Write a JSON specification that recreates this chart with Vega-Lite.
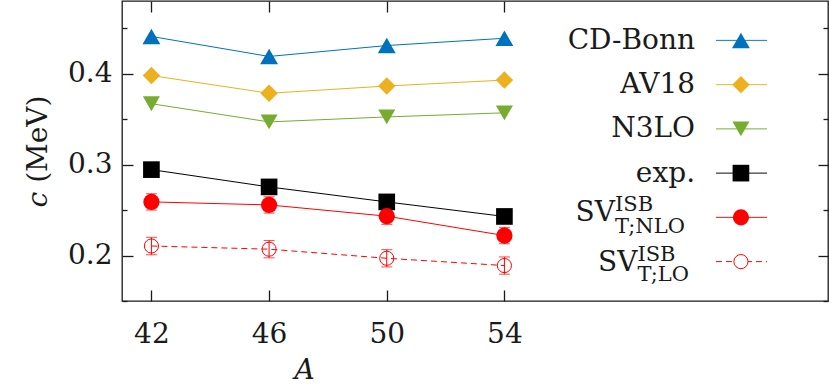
{
  "$schema": "https://vega.github.io/schema/vega-lite/v6.json",
  "width": 706,
  "height": 300,
  "autosize": {"type": "none"},
  "padding": {"left": 122, "top": 1, "right": 1, "bottom": 85},
  "background": "white",
  "datasets": {
    "main": [
      {"series": "CD-Bonn", "A": 42, "c": 0.441},
      {"series": "CD-Bonn", "A": 46, "c": 0.419},
      {"series": "CD-Bonn", "A": 50, "c": 0.431},
      {"series": "CD-Bonn", "A": 54, "c": 0.439},
      {"series": "AV18", "A": 42, "c": 0.398},
      {"series": "AV18", "A": 46, "c": 0.3785},
      {"series": "AV18", "A": 50, "c": 0.3865},
      {"series": "AV18", "A": 54, "c": 0.393},
      {"series": "N3LO", "A": 42, "c": 0.367},
      {"series": "N3LO", "A": 46, "c": 0.347},
      {"series": "N3LO", "A": 50, "c": 0.3525},
      {"series": "N3LO", "A": 54, "c": 0.357},
      {"series": "exp.", "A": 42, "c": 0.2945},
      {"series": "exp.", "A": 46, "c": 0.2755},
      {"series": "exp.", "A": 50, "c": 0.259},
      {"series": "exp.", "A": 54, "c": 0.243},
      {"series": "SV NLO", "A": 42, "c": 0.259, "lo": 0.25, "hi": 0.268},
      {"series": "SV NLO", "A": 46, "c": 0.2557, "lo": 0.2467, "hi": 0.2647},
      {"series": "SV NLO", "A": 50, "c": 0.2433, "lo": 0.2343, "hi": 0.2523},
      {"series": "SV NLO", "A": 54, "c": 0.222, "lo": 0.213, "hi": 0.231},
      {"series": "SV LO", "A": 42, "c": 0.2105, "lo": 0.201, "hi": 0.22},
      {"series": "SV LO", "A": 46, "c": 0.207, "lo": 0.1975, "hi": 0.2165},
      {"series": "SV LO", "A": 50, "c": 0.197, "lo": 0.1875, "hi": 0.2065},
      {"series": "SV LO", "A": 54, "c": 0.189, "lo": 0.1795, "hi": 0.1985}
    ],
    "legend": [
      {"series": "CD-Bonn", "main": "CD-Bonn", "sup": "", "sub": ""},
      {"series": "AV18", "main": "AV18", "sup": "", "sub": ""},
      {"series": "N3LO", "main": "N3LO", "sup": "", "sub": ""},
      {"series": "exp.", "main": "exp.", "sup": "", "sub": ""},
      {"series": "SV NLO", "main": "SV", "sup": "ISB", "sub": "T;NLO"},
      {"series": "SV LO", "main": "SV", "sup": "ISB", "sub": "T;LO"}
    ]
  },
  "config": {
    "font": "DejaVu Serif",
    "view": {"stroke": "#1a1a1a", "strokeWidth": 1.3},
    "axis": {
      "grid": false,
      "domain": false,
      "labelFont": "DejaVu Serif",
      "labelFontSize": 28,
      "labelColor": "#1a1a1a",
      "tickColor": "#1a1a1a",
      "tickWidth": 1.3,
      "titleFont": "DejaVu Serif",
      "titleFontSize": 28,
      "titleFontWeight": "normal",
      "titleColor": "#1a1a1a",
      "labelFlush": false,
      "labelOverlap": false
    },
    "text": {"font": "DejaVu Serif", "color": "#1a1a1a"}
  },
  "resolve": {"scale": {"y": "independent"}, "axis": {"x": "independent", "y": "independent"}},
  "layer": [
    {
      "data": {"name": "main"},
      "transform": [{"filter": "datum.series !== 'SV LO'"}],
      "mark": {"type": "line", "strokeWidth": 1},
      "encoding": {
        "x": {"field": "A", "type": "quantitative", "scale": {"domain": [41, 65], "nice": false, "zero": false},
          "axis": {"orient": "bottom", "values": [42, 46, 50, 54], "tickSize": -11, "labelPadding": 30, "title": "A", "titleFontStyle": "italic", "titleX": 182, "titleY": 77, "titleAlign": "center", "titleBaseline": "alphabetic"}},
        "y": {"field": "c", "type": "quantitative", "scale": {"domain": [0.15, 0.48], "nice": false, "zero": false},
          "axis": {"orient": "left", "values": [0.2, 0.3, 0.4], "format": ".1f", "tickSize": -11, "labelPadding": 21, "title": "𝑐 (MeV)", "titleX": -84, "titleY": 150, "titleAngle": -90, "titleAlign": "center", "titleBaseline": "middle"}},
        "color": {"field": "series", "type": "nominal", "scale": {"domain": ["CD-Bonn", "AV18", "N3LO", "exp.", "SV NLO", "SV LO"], "range": ["#0072BD", "#EDB120", "#77AC30", "#000000", "#FF0000", "#FF0000"]}, "legend": null}
      }
    },
    {
      "data": {"name": "main"},
      "transform": [{"filter": "datum.series === 'SV LO'"}],
      "mark": {"type": "line", "strokeWidth": 1, "strokeDash": [6, 4]},
      "encoding": {
        "x": {"field": "A", "type": "quantitative", "scale": {"domain": [41, 65], "nice": false, "zero": false},
          "axis": {"orient": "top", "values": [42, 46, 50, 54], "tickSize": -11, "labels": false, "title": null}},
        "y": {"field": "c", "type": "quantitative", "scale": {"domain": [0.15, 0.48], "nice": false, "zero": false},
          "axis": {"orient": "right", "values": [0.2, 0.3, 0.4], "tickSize": -10, "labels": false, "title": null}},
        "color": {"field": "series", "type": "nominal", "legend": null}
      }
    },
    {
      "data": {"name": "main"},
      "transform": [{"filter": "datum.series === 'SV NLO' || datum.series === 'SV LO'"}],
      "mark": {"type": "errorbar", "ticks": {"size": 11}, "rule": {"strokeWidth": 1}},
      "encoding": {
        "x": {"field": "A", "type": "quantitative", "scale": {"domain": [41, 65], "nice": false, "zero": false}, "axis": null},
        "y": {"field": "lo", "type": "quantitative", "scale": {"domain": [0.15, 0.48], "nice": false, "zero": false}, "axis": null},
        "y2": {"field": "hi"},
        "color": {"field": "series", "type": "nominal", "legend": null}
      }
    },
    {
      "data": {"name": "main"},
      "transform": [{"filter": "datum.series !== 'SV LO'"}],
      "mark": {"type": "point", "filled": true, "opacity": 1},
      "encoding": {
        "x": {"field": "A", "type": "quantitative", "scale": {"domain": [41, 65], "nice": false, "zero": false}, "axis": null},
        "y": {"field": "c", "type": "quantitative", "scale": {"domain": [0.15, 0.48], "nice": false, "zero": false},
          "axis": {"orient": "left", "values": [0.15, 0.25, 0.35, 0.45], "tickSize": -5, "labels": false, "title": null}},
        "color": {"field": "series", "type": "nominal", "legend": null},
        "shape": {"field": "series", "type": "nominal", "scale": {"domain": ["CD-Bonn", "AV18", "N3LO", "exp.", "SV NLO", "SV LO"], "range": ["triangle-up", "diamond", "triangle-down", "square", "circle", "circle"]}, "legend": null},
        "size": {"field": "series", "type": "ordinal", "scale": {"domain": ["CD-Bonn", "AV18", "N3LO", "exp.", "SV NLO", "SV LO"], "range": [320, 250, 320, 180, 169, 200]}, "legend": null}
      }
    },
    {
      "data": {"name": "main"},
      "transform": [{"filter": "datum.series === 'SV LO'"}],
      "mark": {"type": "point", "filled": false, "shape": "circle", "size": 200, "strokeWidth": 1, "opacity": 1},
      "encoding": {
        "x": {"field": "A", "type": "quantitative", "scale": {"domain": [41, 65], "nice": false, "zero": false}, "axis": null},
        "y": {"field": "c", "type": "quantitative", "scale": {"domain": [0.15, 0.48], "nice": false, "zero": false},
          "axis": {"orient": "right", "values": [0.15, 0.25, 0.35, 0.45], "tickSize": -5, "labels": false, "title": null}},
        "color": {"field": "series", "type": "nominal", "legend": null}
      }
    },
    {
      "data": {"name": "legend"},
      "mark": {"type": "rule", "strokeWidth": 1},
      "encoding": {
        "x": {"datum": 61.19, "type": "quantitative", "axis": null},
        "x2": {"datum": 62.93},
        "y": {"field": "series", "type": "nominal", "scale": {"type": "point", "domain": ["CD-Bonn", "AV18", "N3LO", "exp.", "SV NLO", "SV LO"], "padding": 0.89}, "axis": null},
        "color": {"field": "series", "type": "nominal", "legend": null},
        "strokeDash": {"field": "series", "type": "nominal", "scale": {"domain": ["CD-Bonn", "AV18", "N3LO", "exp.", "SV NLO", "SV LO"], "range": [[1, 0], [1, 0], [1, 0], [1, 0], [1, 0], [6, 4]]}, "legend": null}
      }
    },
    {
      "data": {"name": "legend"},
      "transform": [{"filter": "datum.series !== 'SV LO'"}],
      "mark": {"type": "point", "filled": true, "opacity": 1},
      "encoding": {
        "x": {"datum": 62.04, "type": "quantitative", "axis": null},
        "y": {"field": "series", "type": "nominal", "scale": {"type": "point", "domain": ["CD-Bonn", "AV18", "N3LO", "exp.", "SV NLO", "SV LO"], "padding": 0.89}, "axis": null},
        "color": {"field": "series", "type": "nominal", "legend": null},
        "shape": {"field": "series", "type": "nominal", "legend": null},
        "size": {"field": "series", "type": "ordinal", "legend": null}
      }
    },
    {
      "data": {"name": "legend"},
      "transform": [{"filter": "datum.series === 'SV LO'"}],
      "mark": {"type": "point", "filled": false, "shape": "circle", "size": 200, "strokeWidth": 1, "opacity": 1, "fill": "white"},
      "encoding": {
        "x": {"datum": 62.04, "type": "quantitative", "axis": null},
        "y": {"field": "series", "type": "nominal", "scale": {"type": "point", "domain": ["CD-Bonn", "AV18", "N3LO", "exp.", "SV NLO", "SV LO"], "padding": 0.89}, "axis": null},
        "color": {"field": "series", "type": "nominal", "legend": null}
      }
    },
    {
      "data": {"name": "legend"},
      "transform": [{"filter": "datum.sup === ''"}],
      "mark": {"type": "text", "align": "right", "baseline": "alphabetic", "dy": 8.5, "fontSize": 28},
      "encoding": {
        "x": {"datum": 60.48, "type": "quantitative", "axis": null},
        "y": {"field": "series", "type": "nominal", "scale": {"type": "point", "domain": ["CD-Bonn", "AV18", "N3LO", "exp.", "SV NLO", "SV LO"], "padding": 0.89}, "axis": null},
        "text": {"field": "main"}
      }
    },
    {
      "data": {"name": "legend"},
      "transform": [{"filter": "datum.series === 'SV NLO'"}],
      "mark": {"type": "text", "align": "right", "baseline": "alphabetic", "dy": 3.3, "fontSize": 28},
      "encoding": {
        "x": {"datum": 57.76, "type": "quantitative", "axis": null},
        "y": {"field": "series", "type": "nominal", "scale": {"type": "point", "domain": ["CD-Bonn", "AV18", "N3LO", "exp.", "SV NLO", "SV LO"], "padding": 0.89}, "axis": null},
        "text": {"field": "main"}
      }
    },
    {
      "data": {"name": "legend"},
      "transform": [{"filter": "datum.series === 'SV NLO'"}],
      "mark": {"type": "text", "align": "left", "baseline": "alphabetic", "dy": -6.7, "fontSize": 21},
      "encoding": {
        "x": {"datum": 57.76, "type": "quantitative", "axis": null},
        "y": {"field": "series", "type": "nominal", "scale": {"type": "point", "domain": ["CD-Bonn", "AV18", "N3LO", "exp.", "SV NLO", "SV LO"], "padding": 0.89}, "axis": null},
        "text": {"field": "sup"}
      }
    },
    {
      "data": {"name": "legend"},
      "transform": [{"filter": "datum.series === 'SV NLO'"}],
      "mark": {"type": "text", "align": "left", "baseline": "alphabetic", "dy": 15.3, "fontSize": 21},
      "encoding": {
        "x": {"datum": 57.76, "type": "quantitative", "axis": null},
        "y": {"field": "series", "type": "nominal", "scale": {"type": "point", "domain": ["CD-Bonn", "AV18", "N3LO", "exp.", "SV NLO", "SV LO"], "padding": 0.89}, "axis": null},
        "text": {"field": "sub"}
      }
    },
    {
      "data": {"name": "legend"},
      "transform": [{"filter": "datum.series === 'SV LO'"}],
      "mark": {"type": "text", "align": "right", "baseline": "alphabetic", "dy": 9, "fontSize": 28},
      "encoding": {
        "x": {"datum": 58.52, "type": "quantitative", "axis": null},
        "y": {"field": "series", "type": "nominal", "scale": {"type": "point", "domain": ["CD-Bonn", "AV18", "N3LO", "exp.", "SV NLO", "SV LO"], "padding": 0.89}, "axis": null},
        "text": {"field": "main"}
      }
    },
    {
      "data": {"name": "legend"},
      "transform": [{"filter": "datum.series === 'SV LO'"}],
      "mark": {"type": "text", "align": "left", "baseline": "alphabetic", "dy": -1, "fontSize": 21},
      "encoding": {
        "x": {"datum": 58.52, "type": "quantitative", "axis": null},
        "y": {"field": "series", "type": "nominal", "scale": {"type": "point", "domain": ["CD-Bonn", "AV18", "N3LO", "exp.", "SV NLO", "SV LO"], "padding": 0.89}, "axis": null},
        "text": {"field": "sup"}
      }
    },
    {
      "data": {"name": "legend"},
      "transform": [{"filter": "datum.series === 'SV LO'"}],
      "mark": {"type": "text", "align": "left", "baseline": "alphabetic", "dy": 19, "fontSize": 21},
      "encoding": {
        "x": {"datum": 58.52, "type": "quantitative", "axis": null},
        "y": {"field": "series", "type": "nominal", "scale": {"type": "point", "domain": ["CD-Bonn", "AV18", "N3LO", "exp.", "SV NLO", "SV LO"], "padding": 0.89}, "axis": null},
        "text": {"field": "sub"}
      }
    }
  ]
}
